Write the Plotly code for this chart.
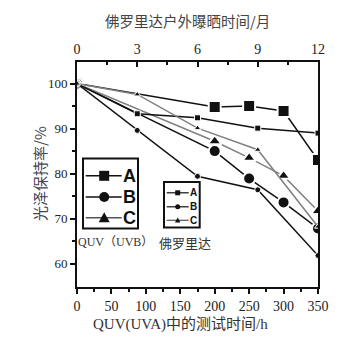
import plotly.graph_objects as go

# QUV test hours (bottom axis) and Florida months (top axis)
quv_hours = [0, 200, 250, 300, 350]
fl_months = [0, 3, 6, 9, 12]

quv_A = [100, 94.8, 95.0, 93.9, 83.0]
quv_B = [100, 85.0, 78.9, 73.6, 67.8]
quv_C = [100, 87.2, 83.5, 79.5, 71.7]

fl_A = [100, 93.3, 92.4, 90.1, 89.0]
fl_B = [100, 89.6, 79.4, 76.4, 61.8]
fl_C = [100, 97.6, 90.1, 85.3, 68.2]

names = ["A", "B", "C"]
symbols = ["square", "circle", "triangle-up"]
colors = ["#111111", "#111111", "#808080"]

fig = go.Figure()

for name, ys, sym, col in zip(names, [quv_A, quv_B, quv_C], symbols, colors):
    fig.add_trace(go.Scatter(
        x=quv_hours, y=ys, name="QUV " + name, mode="lines+markers",
        line=dict(color=col, width=1.5),
        marker=dict(symbol=sym, size=12, color="#111111", line=dict(color="white", width=2)),
        xaxis="x", yaxis="y", showlegend=False))

for name, ys, sym, col in zip(names, [fl_A, fl_B, fl_C], symbols, colors):
    fig.add_trace(go.Scatter(
        x=fl_months, y=ys, name="Florida " + name, mode="lines+markers",
        line=dict(color=col, width=1.5),
        marker=dict(symbol=sym, size=6, color="#111111", line=dict(color="white", width=1)),
        xaxis="x2", yaxis="y", showlegend=False))

serif = "Liberation Serif, Times New Roman, serif"
cjk = "Noto Sans CJK SC, sans-serif"

# pixel -> paper helpers (plot area: x 77.3..318.3, y 61.7..286.7)
def px(x):
    return (x - 77.3) / 241.0

def py(y):
    return (286.7 - y) / 225.0

shapes = []
annotations = []

def legend_box(x0, y0, x1, y1, rows, lx0, lx1, mx, ms, tx, fsize, lw):
    shapes.append(dict(type="rect", xref="paper", yref="paper",
                       x0=px(x0), x1=px(x1), y0=py(y1), y1=py(y0),
                       line=dict(color="#111", width=2), fillcolor="white", layer="above"))
    for (ry, sym, name, col) in rows:
        shapes.append(dict(type="line", xref="paper", yref="paper",
                           x0=px(lx0), x1=px(lx1), y0=py(ry), y1=py(ry),
                           line=dict(color=col, width=lw), layer="above"))
        h = ms / 2.0
        if sym == "square":
            shapes.append(dict(type="rect", xref="paper", yref="paper",
                               x0=px(mx - h), x1=px(mx + h), y0=py(ry + h), y1=py(ry - h),
                               line=dict(width=0), fillcolor="#111", layer="above"))
        elif sym == "circle":
            shapes.append(dict(type="circle", xref="paper", yref="paper",
                               x0=px(mx - h), x1=px(mx + h), y0=py(ry + h), y1=py(ry - h),
                               line=dict(width=0), fillcolor="#111", layer="above"))
        else:
            path = "M {} {} L {} {} L {} {} Z".format(
                px(mx - h * 1.1), py(ry + h * 0.9), px(mx + h * 1.1), py(ry + h * 0.9),
                px(mx), py(ry - h * 1.1))
            shapes.append(dict(type="path", xref="paper", yref="paper", path=path,
                               line=dict(width=0), fillcolor="#111", layer="above"))
        annotations.append(dict(text="<b>" + name + "</b>", xref="paper", yref="paper",
                                x=px(tx), y=py(ry), xanchor="center", yanchor="middle",
                                showarrow=False, borderpad=0,
                                font=dict(family="Liberation Sans, Arial", size=fsize, color="#111")))

legend_box(83.3, 158.3, 138.3, 228.3,
           [(175.5, "square", "A", "#111"), (196.7, "circle", "B", "#111"), (217.5, "triangle", "C", "#555")],
           86, 122, 104.5, 10, 129.5, 18, 1.5)
legend_box(164.3, 181.7, 200.0, 227.3,
           [(192.5, "square", "A", "#111"), (206.5, "circle", "B", "#111"), (220.0, "triangle", "C", "#555")],
           167, 189, 178, 5, 194, 10, 1.2)

annotations += [
    dict(text="佛罗里达户外曝晒时间/月", xref="paper", yref="paper", x=px(187.5), y=py(20.7),
         xanchor="center", yanchor="middle",
         showarrow=False, font=dict(family=cjk, size=14.5, color="#444")),
    dict(text="QUV(UVA)中的测试时间/h", xref="paper", yref="paper", x=px(181), y=py(324),
         xanchor="center", yanchor="middle",
         showarrow=False, font=dict(family=serif + ", " + cjk, size=15, color="#333")),
    dict(text="光泽保持率/%", xref="paper", yref="paper", x=px(40), y=py(173), textangle=-90,
         xanchor="center", yanchor="middle",
         showarrow=False, font=dict(family=cjk, size=15, color="#445")),
    dict(text="QUV（UVB）", xref="paper", yref="paper", x=px(76), y=py(241.7),
         xanchor="left", yanchor="middle",
         showarrow=False, font=dict(family=serif + ", " + cjk, size=12, color="#333")),
    dict(text="佛罗里达", xref="paper", yref="paper", x=px(157), y=py(241.7),
         xanchor="left", yanchor="middle",
         showarrow=False, font=dict(family=cjk, size=13, color="#333")),
]

fig.update_layout(
    width=348, height=356,
    margin=dict(l=77, r=30, t=62, b=69),
    paper_bgcolor="white", plot_bgcolor="white",
    showlegend=False,
    xaxis=dict(range=[0, 350], tickvals=[0, 50, 100, 150, 200, 250, 300, 350],
               ticks="outside", ticklen=5, tickwidth=1.5, tickcolor="#111",
               minor=dict(tickvals=[25, 75, 125, 175, 225, 275, 325], ticks="outside", ticklen=3, tickcolor="#111"),
               showline=True, linecolor="#111", linewidth=2, showgrid=False, zeroline=False,
               tickfont=dict(family=serif, size=14, color="#222")),
    xaxis2=dict(range=[0, 12], tickvals=[0, 3, 6, 9, 12], overlaying="x", side="top", anchor="y",
                ticks="inside", ticklen=5, tickwidth=1.5, tickcolor="#111",
                minor=dict(tickvals=[1.5, 4.5, 7.5, 10.5], ticks="inside", ticklen=3, tickcolor="#111"),
                showline=True, linecolor="#111", linewidth=2, showgrid=False, zeroline=False,
                tickfont=dict(family=serif, size=14, color="#222")),
    yaxis=dict(range=[54.8, 104.8], tickvals=[60, 70, 80, 90, 100],
               ticks="outside", ticklen=5, tickwidth=1.5, tickcolor="#111",
               minor=dict(tickvals=[65, 75, 85, 95], ticks="outside", ticklen=3, tickcolor="#111"),
               showline=True, mirror=True, linecolor="#111", linewidth=2, showgrid=False, zeroline=False,
               tickfont=dict(family=serif, size=13, color="#222")),
    shapes=shapes,
    annotations=annotations,
)

fig.write_html("out.html")
